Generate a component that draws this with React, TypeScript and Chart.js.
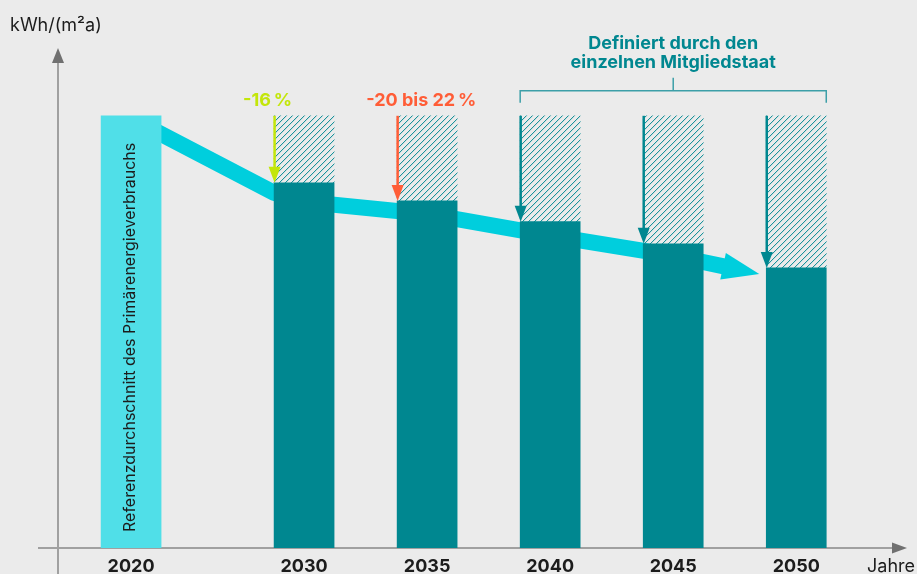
import { useEffect, useRef } from 'react';
import { Chart, registerables } from 'chart.js';

Chart.register(...registerables);

// ---- data ----
const categories = ['2020', '2030', '2035', '2040', '2045', '2050'];
const years = [2020, 2030, 2035, 2040, 2045, 2050];
const referenceValue = 100;
const targetYears = [2030, 2035, 2040, 2045, 2050];
const targetValues = [84.5, 80.3, 75.5, 70.4, 64.8];
const reductionLabels = ['-16\u2009%', '-20 bis 22\u2009%'];
const yAxisTitle = 'kWh/(m\u00b2a)';
const xAxisTitle = 'Jahre';
const referenceLabel = 'Referenzdurchschnitt des Primärenergieverbrauchs';
const memberStateNote = ['Definiert durch den', 'einzelnen Mitgliedstaat'];

// ---- styles ----
const BG = '#ebebeb';
const TEAL = '#008790';
const HATCH = '#1a939c';
const REF = '#50dfe8';
const TREND = '#00cedd';
const GREEN = '#c3e60a';
const ORANGE = '#ff5d37';
const AXIS = '#a0a0a0';
const AXIS_HEAD = '#707070';
const TEXT = '#1c1c1c';
const BRACKET = '#3d9fa8';
const FONT = 'Inter, "Noto Sans", sans-serif';

const X_MIN = 2020;
const X_MAX = 2054.5;
const REF_SHIFT = 2.97;

function makeHatch(color: string) {
  const n = 6;
  const c = document.createElement('canvas');
  c.width = n;
  c.height = n;
  const g = c.getContext('2d')!;
  g.fillStyle = color;
  for (let i = 0; i < n; i++) {
    g.globalAlpha = 1;
    g.fillRect(i, n - 1 - i, 1, 1);
    g.globalAlpha = 0.15;
    g.fillRect((i + 1) % n, n - 1 - i, 1, 1);
  }
  g.globalAlpha = 1;
  return g.createPattern(c, 'repeat')!;
}

const decor = {
  id: 'decor',
  beforeDatasetsDraw(chart: any) {
    const ctx = chart.ctx as CanvasRenderingContext2D;
    const ca = chart.chartArea;
    const x0 = ca.left;
    const yb = ca.bottom;
    ctx.save();
    // y axis
    ctx.strokeStyle = AXIS;
    ctx.lineWidth = 2;
    ctx.beginPath();
    ctx.moveTo(x0, chart.height);
    ctx.lineTo(x0, ca.top + 24);
    ctx.stroke();
    ctx.fillStyle = AXIS_HEAD;
    ctx.beginPath();
    ctx.moveTo(x0, ca.top + 10);
    ctx.lineTo(x0 - 6, ca.top + 25);
    ctx.lineTo(x0 + 6, ca.top + 25);
    ctx.closePath();
    ctx.fill();
    // x axis
    ctx.beginPath();
    ctx.moveTo(x0 - 20, yb);
    ctx.lineTo(ca.right - 14, yb);
    ctx.stroke();
    ctx.beginPath();
    ctx.moveTo(ca.right, yb);
    ctx.lineTo(ca.right - 15, yb - 5.5);
    ctx.lineTo(ca.right - 15, yb + 5.5);
    ctx.closePath();
    ctx.fill();

    // trend band (follows the bar tops)
    const refEl = chart.getDatasetMeta(0).data[0];
    const tEls = chart.getDatasetMeta(1).data;
    const centerOffsets = [19, 13, 14, 12];
    const pts: [number, number][] = [];
    pts.push([refEl.x + refEl.width / 2 - 6, refEl.y + 15]);
    pts.push([tEls[0].x - tEls[0].width / 2, tEls[0].y + 10]);
    for (let i = 0; i < tEls.length - 1; i++) {
      const e = tEls[i];
      pts.push([e.x, e.y + centerOffsets[i]]);
    }
    const last = tEls[tEls.length - 1];
    const tip: [number, number] = [last.x - last.width / 2 - 7, last.y + 6];
    const prev = pts[pts.length - 1];
    const dx = tip[0] - prev[0];
    const dy = tip[1] - prev[1];
    const len = Math.hypot(dx, dy);
    const ux = dx / len;
    const uy = dy / len;
    const headLen = 37;
    const headHalf = 13.5;
    const base: [number, number] = [tip[0] - ux * headLen, tip[1] - uy * headLen];
    ctx.strokeStyle = TREND;
    ctx.lineWidth = 16;
    ctx.lineJoin = 'round';
    ctx.beginPath();
    ctx.moveTo(pts[0][0], pts[0][1]);
    for (let i = 1; i < pts.length; i++) ctx.lineTo(pts[i][0], pts[i][1]);
    ctx.lineTo(base[0] + ux * 2, base[1] + uy * 2);
    ctx.stroke();
    ctx.fillStyle = TREND;
    ctx.beginPath();
    ctx.moveTo(tip[0], tip[1]);
    ctx.lineTo(base[0] - uy * headHalf, base[1] + ux * headHalf);
    ctx.lineTo(base[0] + uy * headHalf, base[1] - ux * headHalf);
    ctx.closePath();
    ctx.fill();
    ctx.restore();
  },
  afterDatasetsDraw(chart: any) {
    const ctx = chart.ctx as CanvasRenderingContext2D;
    const yScale = chart.scales.y;
    const yRef = yScale.getPixelForValue(referenceValue);
    const refEl = chart.getDatasetMeta(0).data[0];
    const tEls = chart.getDatasetMeta(1).data;
    ctx.save();

    // vertical reduction arrows
    const arrowColors = [GREEN, ORANGE, TEAL, TEAL, TEAL];
    tEls.forEach((e: any, i: number) => {
      const x = e.x - e.width / 2 + 0.5;
      const top = e.y;
      ctx.strokeStyle = arrowColors[i];
      ctx.fillStyle = arrowColors[i];
      ctx.lineWidth = 2.5;
      ctx.beginPath();
      ctx.moveTo(x, yRef);
      ctx.lineTo(x, top - 14);
      ctx.stroke();
      ctx.beginPath();
      ctx.moveTo(x, top);
      ctx.lineTo(x - 6, top - 16);
      ctx.lineTo(x + 6, top - 16);
      ctx.closePath();
      ctx.fill();
    });

    // reduction labels
    ctx.font = `bold 18px ${FONT}`;
    ctx.textAlign = 'left';
    ctx.textBaseline = 'alphabetic';
    const labelColors = [GREEN, ORANGE];
    reductionLabels.forEach((t, i) => {
      const e = tEls[i];
      ctx.fillStyle = labelColors[i];
      ctx.fillText(t, e.x - e.width / 2 - 31, yRef - 10);
    });

    // bracket for member states
    const bl = tEls[2].x - tEls[2].width / 2;
    const br = tEls[4].x + tEls[4].width / 2;
    const by = yRef - 25;
    const bc = (bl + br) / 2;
    ctx.strokeStyle = BRACKET;
    ctx.lineWidth = 1.5;
    ctx.beginPath();
    ctx.moveTo(bl, by + 12);
    ctx.lineTo(bl, by);
    ctx.lineTo(br, by);
    ctx.lineTo(br, by + 12);
    ctx.moveTo(bc, by);
    ctx.lineTo(bc, by - 13);
    ctx.stroke();
    ctx.fillStyle = TEAL;
    ctx.font = `bold 18px ${FONT}`;
    ctx.textAlign = 'center';
    ctx.fillText(memberStateNote[0], bc, by - 42);
    ctx.fillText(memberStateNote[1], bc, by - 23);

    // rotated label in reference bar
    ctx.save();
    ctx.translate(refEl.x - 1, refEl.base - 16);
    ctx.rotate(-Math.PI / 2);
    ctx.fillStyle = TEXT;
    ctx.font = `16px ${FONT}`;
    ctx.textAlign = 'left';
    ctx.textBaseline = 'middle';
    ctx.fillText(referenceLabel, 0, 0);
    ctx.restore();

    // year labels
    ctx.fillStyle = TEXT;
    ctx.font = `bold 18px ${FONT}`;
    ctx.textAlign = 'center';
    ctx.textBaseline = 'alphabetic';
    const yl = chart.chartArea.bottom + 24;
    ctx.fillText(categories[0], refEl.x, yl);
    tEls.forEach((e: any, i: number) => ctx.fillText(categories[i + 1], e.x, yl));

    // axis titles
    ctx.font = `18px ${FONT}`;
    ctx.textAlign = 'left';
    ctx.fillText(xAxisTitle, 867, yl);
    ctx.fillText(yAxisTitle, 10, 31);
    ctx.restore();
  },
};

export default function App() {
  const ref = useRef<HTMLCanvasElement>(null);
  useEffect(() => {
    document.body.style.margin = '0';
    document.body.style.background = BG;
    const hatch = makeHatch(HATCH);
    const chart = new Chart(ref.current!, {
      type: 'bar',
      data: {
        datasets: [
          {
            label: 'Referenz',
            xAxisID: 'xRef',
            data: [{ x: years[0], y: referenceValue }],
            backgroundColor: REF,
          },
          {
            label: 'Ziel',
            xAxisID: 'x',
            data: targetYears.map((x, i) => ({ x, y: targetValues[i] })),
            backgroundColor: TEAL,
          },
          {
            label: 'Spielraum',
            xAxisID: 'x',
            data: targetYears.map((x, i) => ({ x, y: [targetValues[i], referenceValue] })),
            backgroundColor: hatch,
          },
        ] as any,
      },
      options: {
        animation: false,
        responsive: true,
        maintainAspectRatio: false,
        layout: { padding: { left: 58, right: 10, top: 38, bottom: 26 } },
        datasets: { bar: { barThickness: 60, grouped: false, borderWidth: 0 } as any },
        plugins: { legend: { display: false }, tooltip: { enabled: false } },
        scales: {
          x: { type: 'linear', offset: false, min: X_MIN, max: X_MAX, display: false },
          xRef: { type: 'linear', offset: false, min: X_MIN - REF_SHIFT, max: X_MAX - REF_SHIFT, display: false },
          y: { min: 0, max: 118, display: false },
        },
      } as any,
      plugins: [decor],
    });
    return () => chart.destroy();
  }, []);
  return (
    <div style={{ width: 917, height: 574, position: 'relative', background: BG }}>
      <canvas ref={ref} />
    </div>
  );
}
